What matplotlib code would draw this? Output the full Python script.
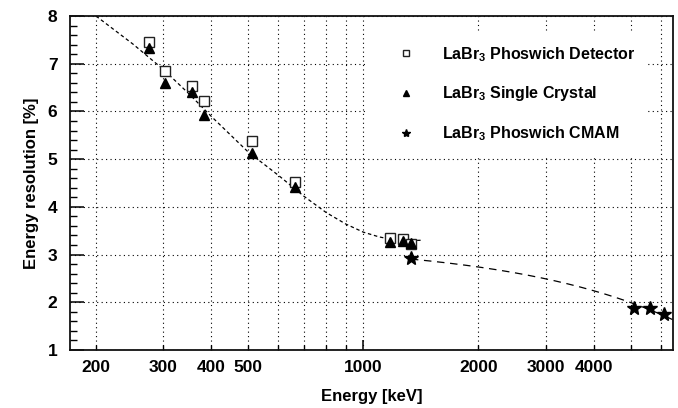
import numpy as np
import matplotlib
matplotlib.use("Agg")
import matplotlib.pyplot as plt
from matplotlib.ticker import FixedLocator, FixedFormatter, MultipleLocator

plt.rcParams["font.family"] = ["Liberation Sans", "DejaVu Sans"]
plt.rcParams["font.weight"] = "bold"
plt.rcParams["mathtext.fontset"] = "custom"
plt.rcParams["mathtext.rm"] = "Liberation Sans:bold"
plt.rcParams["mathtext.it"] = "Liberation Sans:bold"
plt.rcParams["mathtext.bf"] = "Liberation Sans:bold"
plt.rcParams["mathtext.default"] = "rm"

# Gamma lines (keV) and measured resolution (%)
phoswich_energy = [276, 303, 356, 384, 511, 662, 1173, 1274, 1332]
phoswich_resolution = [7.45, 6.85, 6.54, 6.22, 5.37, 4.53, 3.34, 3.33, 3.23]

single_energy = [276, 303, 356, 384, 511, 662, 1173, 1274, 1332]
single_resolution = [7.32, 6.60, 6.41, 5.92, 5.12, 4.41, 3.27, 3.29, 3.25]

cmam_energy = [1332, 5107, 5618, 6129]
cmam_resolution = [2.92, 1.88, 1.88, 1.75]

# Trend curve through the laboratory-source points
trend_energy = [200, 250, 300, 350, 400, 500, 600, 700, 800, 900, 1000,
                1100, 1200, 1300, 1420]
trend_resolution = [8.00, 7.41, 6.88, 6.37, 5.90, 5.15, 4.66, 4.22, 3.88,
                    3.64, 3.47, 3.37, 3.31, 3.29, 3.30]

legend_labels = ["LaBr$_3$ Phoswich Detector",
                 "LaBr$_3$ Single Crystal",
                 "LaBr$_3$ Phoswich CMAM"]

x_major = [1000]
x_minor = [200, 300, 400, 500, 600, 700, 800, 900,
           2000, 3000, 4000, 5000, 6000]
x_minor_labels = ["200", "300", "400", "500", "", "", "", "",
                  "2000", "3000", "4000", "", ""]

xlim = (171, 6455)
ylim = (1, 8)

fig = plt.figure(figsize=(6.78, 4.08), dpi=100)
ax = fig.add_axes([0.1032, 0.1422, 0.8894, 0.8186])

ax.set_xscale("log")
ax.set_xlim(*xlim)
ax.set_ylim(*ylim)

# Linear fit (in energy) of the CMAM points
slope, intercept = np.polyfit(cmam_energy, cmam_resolution, 1)
e_fit = np.linspace(min(cmam_energy), xlim[1] * 1.02, 200)
ax.plot(e_fit, slope * e_fit + intercept, color="black", lw=0.9,
        dashes=(6, 4.5), zorder=2)

ax.plot(trend_energy, trend_resolution, color="black", lw=0.9,
        dashes=(2.8, 2.2), zorder=2)

ax.plot(phoswich_energy, phoswich_resolution, ls="none", marker="s",
        ms=7, mfc="white", mec="#222222", mew=1.0, zorder=3,
        label=legend_labels[0])
ax.plot(single_energy, single_resolution, ls="none", marker="^",
        ms=6.5, mfc="black", mec="black", zorder=4,
        label=legend_labels[1])
ax.plot(cmam_energy, cmam_resolution, ls="none", marker="*",
        ms=10, mfc="black", mec="black", zorder=4,
        label=legend_labels[2])

# Ticks
ax.xaxis.set_major_locator(FixedLocator(x_major))
ax.xaxis.set_major_formatter(FixedFormatter([str(v) for v in x_major]))
ax.xaxis.set_minor_locator(FixedLocator(x_minor))
ax.xaxis.set_minor_formatter(FixedFormatter(x_minor_labels))
ax.yaxis.set_major_locator(MultipleLocator(1))
ax.yaxis.set_minor_locator(MultipleLocator(0.2))

ax.tick_params(axis="x", which="major", direction="in", length=7.5,
               width=1.1, pad=7, labelsize=12.5)
ax.tick_params(axis="x", which="minor", direction="in", length=3.8,
               width=1.0, pad=7, labelsize=12.5)
ax.tick_params(axis="y", which="major", direction="in", length=10,
               width=1.1, pad=9, labelsize=12.5)
ax.tick_params(axis="y", which="minor", direction="in", length=5,
               width=1.0)
for lab in ax.get_xticklabels(which="both") + ax.get_yticklabels():
    lab.set_fontweight("bold")

for sp in ax.spines.values():
    sp.set_linewidth(1.3)
    sp.set_color("#111111")

# Dotted grid
ax.grid(True, which="major", axis="both", color="black", lw=0.8,
        linestyle=(0, (1, 3)))
ax.grid(True, which="minor", axis="x", color="black", lw=0.8,
        linestyle=(0, (1, 3)))
ax.set_axisbelow(True)

ax.set_xlabel("Energy [keV]", fontsize=12, fontweight="bold", labelpad=10)
ax.set_ylabel("Energy resolution [%]", fontsize=12, fontweight="bold",
              labelpad=6)

leg = ax.legend(loc="upper left", bbox_to_anchor=(0.489, 0.949),
                frameon=True, fancybox=False, framealpha=1.0,
                facecolor="white", edgecolor="none", fontsize=11.5,
                borderpad=0.75, handlelength=3.6, handletextpad=0.5,
                labelspacing=1.3, markerscale=0.6, borderaxespad=0)
for t in leg.get_texts():
    t.set_fontweight("bold")

fig.savefig("out.png", dpi=100)
